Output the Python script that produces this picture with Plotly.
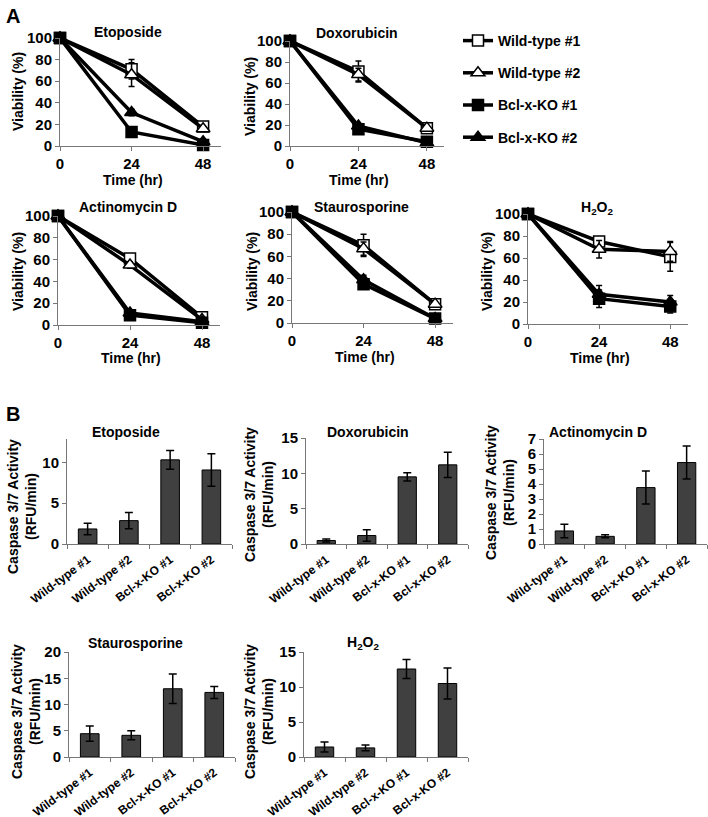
import plotly.graph_objects as go

W, H = 708, 817
FONT = "Liberation Sans, Arial, sans-serif"

# ---------------- data: panel A (viability %) ----------------
time_hr = [0, 24, 48]
series_names = ["Wild-type #1", "Wild-type #2", "Bcl-x-KO #1", "Bcl-x-KO #2"]

via_etoposide = [[100, 71, 18], [100, 66, 16], [100, 13, 1], [100, 31, 4]]
err_etoposide = [[0, 9, 3], [0, 11, 2], [0, 2, 1], [0, 3, 2]]

via_doxorubicin = [[100, 71, 17], [100, 68, 17], [100, 16, 4], [100, 19, 3]]
err_doxorubicin = [[0, 10, 2], [0, 6, 2], [0, 2, 1], [0, 2, 1]]

via_actinomycin = [[100, 61, 7], [100, 55, 5], [100, 9, 2], [100, 11, 3]]
err_actinomycin = [[0, 3, 2], [0, 3, 2], [0, 2, 1], [0, 2, 1]]

via_staurosporine = [[100, 70, 17], [100, 67, 17], [100, 35, 4], [100, 39, 4]]
err_staurosporine = [[0, 10, 3], [0, 6, 2], [0, 2, 1], [0, 4, 1]]

via_h2o2 = [[100, 75, 61], [100, 68, 66], [100, 23, 16], [100, 27, 20]]
err_h2o2 = [[0, 4, 13], [0, 8, 9], [0, 8, 6], [0, 8, 6]]

# ---------------- data: panel B (caspase 3/7 activity) ----------------
categories = ["Wild-type #1", "Wild-type #2", "Bcl-x-KO #1", "Bcl-x-KO #2"]

casp_etoposide = [1.84, 2.86, 10.3, 9.06]
casp_etoposide_err = [0.7, 1.0, 1.15, 2.0]

casp_doxorubicin = [0.5, 1.2, 9.5, 11.2]
casp_doxorubicin_err = [0.2, 0.8, 0.6, 1.8]

casp_actinomycin = [0.87, 0.51, 3.76, 5.43]
casp_actinomycin_err = [0.45, 0.1, 1.1, 1.1]

casp_staurosporine = [4.44, 4.13, 13.0, 12.3]
casp_staurosporine_err = [1.45, 0.85, 2.8, 1.15]

casp_h2o2 = [1.43, 1.3, 12.57, 10.5]
casp_h2o2_err = [0.7, 0.4, 1.35, 2.2]

# ---------------- helpers ----------------
def xd(a, b):
    return [a / W, b / W]

def yd(top, bottom):
    return [1 - bottom / H, 1 - top / H]

def px(x):
    return x / W

def py(y):
    return 1 - y / H

bold = dict(family=FONT, color="black", weight="bold")

fig = go.Figure()
annotations = []

def add_text(text, x, y, size=14, angle=0, xanchor="center", yanchor="middle"):
    annotations.append(dict(text=text, x=px(x), y=py(y), xref="paper", yref="paper",
                            showarrow=False, textangle=angle, xanchor=xanchor, yanchor=yanchor,
                            font=dict(size=size, **bold)))

symbols = ["square", "triangle-up", "square", "triangle-up"]
fills = ["white", "white", "black", "black"]
msizes = [11, 12, 11, 12]

line_panels = [
    ("Etoposide", via_etoposide, err_etoposide, (60, 221), (38, 146), (128, 32), (18, 92), 180),
    ("Doxorubicin", via_doxorubicin, err_doxorubicin, (290, 444), (41, 146), (357, 33), (250, 97), 180),
    ("Actinomycin D", via_actinomycin, err_actinomycin, (58, 220), (216, 325), (128, 207), (18, 272), 358),
    ("Staurosporine", via_staurosporine, err_staurosporine, (292, 453), (212, 323), (361, 207), (252, 272), 357),
    ("H<sub>2</sub>O<sub>2</sub>", via_h2o2, err_h2o2, (528, 688), (214, 324), (597, 208), (487, 272), 358),
]

layout_axes = {}
k = 0
for p, (title, vals, errs, xdom, ydom, tpos, ytpos, xtitle_y) in enumerate(line_panels):
    k += 1
    xa = "x" if k == 1 else f"x{k}"
    ya = "y" if k == 1 else f"y{k}"
    for s in range(4):
        fig.add_trace(go.Scatter(
            x=time_hr, y=vals[s], name=series_names[s], legendgroup=series_names[s],
            showlegend=(p == 0), mode="lines+markers", cliponaxis=False,
            line=dict(color="black", width=3.5),
            marker=dict(symbol=symbols[s], size=msizes[s], color=fills[s],
                        line=dict(color="black", width=1.5)),
            error_y=dict(type="data", array=errs[s], color="black", thickness=1.5, width=3),
            xaxis=xa, yaxis=ya,
        ))
    layout_axes["xaxis" if k == 1 else f"xaxis{k}"] = dict(
        domain=xd(*xdom), range=[0, 54], tickvals=time_hr, showline=True, automargin=False,
        linecolor="#777777", linewidth=1, ticks="outside", ticklen=4, tickcolor="#777777",
        showgrid=False, zeroline=False, tickfont=dict(size=15, **bold), anchor=ya,
    )
    layout_axes["yaxis" if k == 1 else f"yaxis{k}"] = dict(
        domain=yd(*ydom), range=[0, 100], dtick=20, showline=True, automargin=False,
        linecolor="#777777", linewidth=1, ticks="outside", ticklen=4, tickcolor="#777777",
        showgrid=False, zeroline=False, tickfont=dict(size=15, **bold), anchor=xa,
    )
    add_text(title, tpos[0], tpos[1])
    add_text("Viability (%)", ytpos[0], ytpos[1], angle=-90)
    add_text("Time (hr)", (xdom[0] + xdom[1]) / 2 - 8, xtitle_y)

bar_panels = [
    ("Etoposide", casp_etoposide, casp_etoposide_err, (67, 232), (439, 544), 12.85, 5, (126, 432), (22, 507)),
    ("Doxorubicin", casp_doxorubicin, casp_doxorubicin_err, (306, 468), (438, 544), 15, 5, (368, 432), (259, 495)),
    ("Actinomycin D", casp_actinomycin, casp_actinomycin_err, (544, 707), (439, 544), 7, 1, (598, 432), (500, 493)),
    ("Staurosporine", casp_staurosporine, casp_staurosporine_err, (69, 235), (652, 757), 20, 5, (135, 643), (26, 712)),
    ("H<sub>2</sub>O<sub>2</sub>", casp_h2o2, casp_h2o2_err, (304, 468), (652, 757), 15, 5, (363, 643), (259, 712)),
]

for title, vals, errs, xdom, ydom, ymax, dt, tpos, ytpos in bar_panels:
    k += 1
    xa, ya = f"x{k}", f"y{k}"
    fig.add_trace(go.Bar(
        x=categories, y=vals, showlegend=False, cliponaxis=False,
        marker=dict(color="#404040", line=dict(color="black", width=1)),
        error_y=dict(type="data", array=errs, color="black", thickness=1.5, width=4),
        xaxis=xa, yaxis=ya,
    ))
    layout_axes[f"xaxis{k}"] = dict(
        domain=xd(*xdom), type="category", showline=True, linecolor="#777777", linewidth=1,
        ticks="outside", tickson="boundaries", ticklen=4, tickcolor="#777777", tickangle=-37,
        ticklabelstandoff=3,
        showgrid=False, tickfont=dict(size=12, **bold), anchor=ya, automargin=False,
    )
    layout_axes[f"yaxis{k}"] = dict(
        domain=yd(*ydom), range=[0, ymax], dtick=dt, showline=True, linecolor="#777777",
        linewidth=1, ticks="outside", ticklen=4, tickcolor="#777777", showgrid=False,
        zeroline=False, tickfont=dict(size=15, **bold), anchor=xa, automargin=False,
    )
    add_text(title, tpos[0], tpos[1])
    add_text("Caspase 3/7 Activity<br>(RFU/min)", ytpos[0], ytpos[1], angle=-90)

add_text("A", 4, 3, size=20, xanchor="left", yanchor="top")
add_text("B", 4, 401, size=20, xanchor="left", yanchor="top")

fig.update_layout(
    width=W, height=H, margin=dict(l=0, r=0, t=0, b=0, autoexpand=False),
    paper_bgcolor="white", plot_bgcolor="white",
    font=dict(family=FONT, color="black"),
    bargap=0.55,
    showlegend=True,
    legend=dict(x=px(458), y=py(25), xanchor="left", yanchor="top", traceorder="grouped",
                tracegroupgap=11, itemwidth=30, font=dict(size=14, **bold),
                bgcolor="rgba(0,0,0,0)"),
    annotations=annotations,
    **layout_axes,
)

fig.write_html("out.html", config={"displayModeBar": False},
               post_script="document.body.style.margin='0';")
